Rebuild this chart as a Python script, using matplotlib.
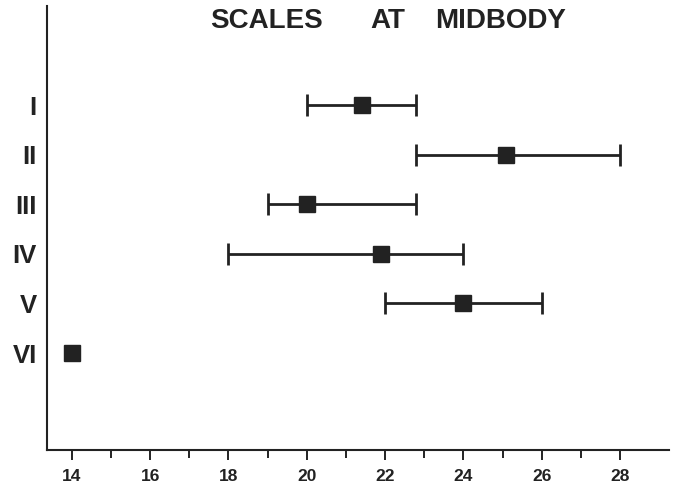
import numpy as np
import matplotlib
matplotlib.use('Agg')
import matplotlib.pyplot as plt

plt.rcParams['font.family'] = ['Liberation Sans', 'DejaVu Sans']

groups = ['I', 'II', 'III', 'IV', 'V', 'VI']
low = np.array([20, 22.8, 19, 18, 22, 14])
high = np.array([22.8, 28, 22.8, 24, 26, 14])
mean = np.array([21.4, 25.1, 20, 21.9, 24, 14])
xticks = [14, 16, 18, 20, 22, 24, 26, 28]
minor_xticks = [15, 17, 19, 21, 23, 25, 27]

ink = '#222222'
rows = np.arange(1, len(groups) + 1)

fig = plt.figure(figsize=(6.75, 4.84), dpi=100)
ax = fig.add_axes([0.069, 0.0702, 0.922, 0.9174])

# ranges with end caps (only where there is a range)
has_range = high > low
ax.errorbar(mean[has_range], rows[has_range],
            xerr=[mean[has_range] - low[has_range], high[has_range] - mean[has_range]],
            fmt='none', ecolor=ink, elinewidth=2.0, capsize=8, capthick=2.0)
ax.plot(mean, rows, 's', color=ink, ms=11.5, zorder=3)

ax.set_xlim(13.356, 29.25)
ax.set_ylim(7.956, -0.996)
ax.set_xticks(xticks)
ax.set_xticks(minor_xticks, minor=True)
ax.set_yticks(rows)
ax.set_yticklabels(groups, fontsize=18.5, fontweight='bold', color=ink)
ax.tick_params(axis='y', length=0, pad=7)
ax.tick_params(axis='x', which='major', length=7.5, width=1.4, color=ink,
               labelsize=12.5, pad=6, labelcolor=ink)
ax.tick_params(axis='x', which='minor', length=6, width=1.4, color=ink)
for lbl in ax.get_xticklabels():
    lbl.set_fontweight('bold')

for side in ['top', 'right']:
    ax.spines[side].set_visible(False)
for side in ['left', 'bottom']:
    ax.spines[side].set_linewidth(1.5)
    ax.spines[side].set_color(ink)

# title words spaced as in the original
fig.text(0.311, 0.956, 'SCALES', fontsize=20, fontweight='bold', color=ink, va='center')
fig.text(0.548, 0.956, 'AT', fontsize=20, fontweight='bold', color=ink, va='center')
fig.text(0.644, 0.956, 'MIDBODY', fontsize=20, fontweight='bold', color=ink, va='center')

fig.savefig('out.png', dpi=100)
